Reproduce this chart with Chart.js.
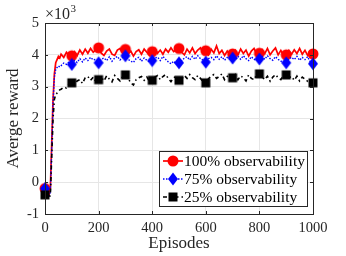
<!DOCTYPE html>
<html>
<head>
<meta charset="utf-8">
<script src="https://cdn.jsdelivr.net/npm/chart.js@4"></script>
<style>
  html, body { margin: 0; padding: 0; background: #fff; }
  #wrap { width: 346px; height: 256px; position: relative; }
</style>
</head>
<body>
<div id="wrap"><canvas id="reward-chart" width="346" height="256"></canvas></div>
<script>
// episodes (x) and average reward in units of 10^3
const episodes = [0, 5, 10, 15, 20, 25, 30, 35, 40, 45, 50, 55,
  60, 70, 80, 90, 100, 110, 120, 130, 140, 150,
  160, 170, 180, 190, 200, 210, 220, 230, 240, 250,
  260, 270, 280, 290, 300, 310, 320, 330, 340, 350,
  360, 370, 380, 390, 400, 410, 420, 430, 440, 450,
  460, 470, 480, 490, 500, 510, 520, 530, 540, 550,
  560, 570, 580, 590, 600, 610, 620, 630, 640, 650,
  660, 670, 680, 690, 700, 710, 720, 730, 740, 750,
  760, 770, 780, 790, 800, 810, 820, 830, 840, 850,
  860, 870, 880, 890, 900, 910, 920, 930, 940, 950,
  960, 970, 980, 990, 1000];

const obs100 = [-0.2, -0.3, -0.4, -0.4, -0.2, 1.2, 2.6, 3.4, 3.75, 3.85, 3.95, 3.9,
  4.02, 3.92, 4.08, 3.98, 3.97, 4.1, 3.98, 4.15, 4.02, 4.18,
  4.05, 4.2, 4.08, 4.16, 4.22, 4.05, 3.98, 4.12, 4.18, 4.02,
  3.98, 4.15, 4.2, 4.05, 4.17, 4.02, 4.12, 3.96, 4.1, 4.16,
  4.02, 4.18, 4.08, 3.98, 4.1, 4.2, 4.05, 4.15, 4.02, 4.18,
  4.08, 4.22, 4.1, 4.16, 4.2, 4.08, 4.0, 4.18, 4.06, 4.22,
  4.04, 4.15, 4.22, 4.06, 4.13, 4.0, 4.18, 4.06, 4.28, 4.04,
  4.14, 3.98, 4.12, 4.0, 4.03, 4.14, 4.0, 4.18, 4.04, 4.15,
  3.96, 4.12, 4.2, 4.02, 4.05, 4.16, 4.04, 4.2, 4.0, 4.12,
  4.22, 4.0, 4.14, 3.98, 4.0, 4.14, 4.02, 4.16, 4.04, 4.2,
  4.02, 4.14, 3.98, 4.1, 4.03];

const obs75 = [-0.2, -0.3, -0.4, -0.45, -0.3, 1.0, 2.5, 3.3, 3.55, 3.6, 3.65, 3.62,
  3.66, 3.74, 3.7, 3.78, 3.7, 3.82, 3.76, 3.88, 3.78, 3.9,
  3.82, 3.92, 3.84, 3.86, 3.75, 3.86, 3.9, 3.82, 3.94, 3.8,
  3.9, 3.95, 3.84, 3.92, 3.97, 3.86, 3.8, 3.76, 3.88, 3.92,
  3.8, 3.9, 3.83, 3.78, 3.82, 3.9, 3.93, 3.82, 3.95, 3.86,
  3.78, 3.72, 3.8, 3.7, 3.75, 3.82, 3.9, 3.94, 3.84, 3.95,
  3.86, 3.97, 3.88, 3.83, 3.77, 3.88, 3.92, 3.85, 3.97, 3.86,
  3.94, 3.83, 3.92, 3.86, 3.9, 3.83, 3.95, 3.86, 3.97, 3.88,
  3.82, 3.94, 3.86, 3.83, 3.87, 3.95, 3.86, 3.97, 3.88, 3.83,
  3.94, 3.86, 3.8, 3.78, 3.75, 3.88, 3.92, 3.85, 3.95, 3.83,
  3.92, 3.85, 3.94, 3.78, 3.72];

const obs25 = [-0.4, -0.45, -0.5, -0.5, -0.4, 0.8, 2.0, 2.6, 2.75, 2.8, 2.85, 2.9,
  2.92, 2.98, 2.96, 3.08, 3.12, 3.05, 3.18, 3.22, 3.1, 3.28,
  3.32, 3.2, 3.3, 3.15, 3.22, 3.3, 3.18, 3.34, 3.24, 3.15,
  3.35, 3.26, 3.18, 3.32, 3.37, 3.26, 3.12, 3.05, 3.22, 3.28,
  3.32, 3.2, 3.3, 3.17, 3.2, 3.3, 3.35, 3.22, 3.32, 3.38,
  3.26, 3.16, 3.28, 3.33, 3.2, 3.24, 3.35, 3.26, 3.38, 3.28,
  3.22, 3.35, 3.26, 3.16, 3.12, 3.25, 3.33, 3.38, 3.26, 3.32,
  3.4, 3.22, 3.32, 3.37, 3.28, 3.38, 3.22, 3.34, 3.28, 3.18,
  3.37, 3.26, 3.22, 3.38, 3.4, 3.3, 3.22, 3.33, 3.17, 3.3,
  3.38, 3.28, 3.22, 3.37, 3.37, 3.28, 3.32, 3.2, 3.33, 3.18,
  3.3, 3.24, 3.17, 3.2, 3.12];

const seriesNames = ['100% observability', '75% observability', '25% observability'];
const xTicks = [0, 200, 400, 600, 800, 1000];
const yTicks = [-1, 0, 1, 2, 3, 4, 5];

const SERIF = '"Liberation Serif", "DejaVu Serif", serif';
const AXIS = '#262626';

function makeMarker(kind, color) {
  const c = document.createElement('canvas');
  c.width = 14; c.height = 14;
  const g = c.getContext('2d');
  g.fillStyle = color;
  g.beginPath();
  if (kind === 'circle') {
    g.arc(7, 7, 5.5, 0, Math.PI * 2);
  } else if (kind === 'diamond') {
    g.moveTo(7, 0.5); g.lineTo(12, 7); g.lineTo(7, 13.5); g.lineTo(2, 7); g.closePath();
  } else {
    g.rect(2.5, 2.5, 9, 9);
  }
  g.fill();
  return c;
}

const markers = [
  makeMarker('circle', '#ff0000'),
  makeMarker('diamond', '#0000ff'),
  makeMarker('square', '#000000')
];
const colors = ['#ff0000', '#0000ff', '#000000'];
const dashes = [[], [1.5, 1.5], [4, 3, 1.5, 3]];
const widths = [1.7, 1.4, 1.6];

function pts(vals) {
  return episodes.map((e, i) => ({ x: e, y: vals[i] }));
}

// marker only every 100 episodes
const markEvery = ctx => (ctx.raw && ctx.raw.x % 100 === 0) ? 5 : 0;

const frame = {
  id: 'frame',
  afterDraw(chart) {
    const ctx = chart.ctx;
    const a = chart.chartArea;
    const xs = chart.scales.x, ys = chart.scales.y;
    ctx.save();
    // box
    ctx.strokeStyle = AXIS;
    ctx.lineWidth = 1;
    ctx.strokeRect(Math.round(a.left) + 0.5, Math.round(a.top) + 0.5,
      Math.round(a.right - a.left), Math.round(a.bottom - a.top));
    // inward ticks
    ctx.beginPath();
    xTicks.forEach(t => {
      const px = Math.round(xs.getPixelForValue(t)) + 0.5;
      ctx.moveTo(px, a.bottom); ctx.lineTo(px, a.bottom - 3);
      ctx.moveTo(px, a.top); ctx.lineTo(px, a.top + 3);
    });
    yTicks.forEach(t => {
      const py = Math.round(ys.getPixelForValue(t)) + 0.5;
      ctx.moveTo(a.left, py); ctx.lineTo(a.left + 3, py);
      ctx.moveTo(a.right, py); ctx.lineTo(a.right - 3, py);
    });
    ctx.stroke();

    // exponent label
    ctx.fillStyle = AXIS;
    ctx.textBaseline = 'alphabetic';
    ctx.textAlign = 'left';
    ctx.font = '16px ' + SERIF;
    ctx.fillText('\u00d710', a.left, 19);
    const w = ctx.measureText('\u00d710').width;
    ctx.font = '11px ' + SERIF;
    ctx.fillText('3', a.left + w + 0.5, 12);

    // axis titles
    ctx.font = '17px ' + SERIF;
    ctx.textAlign = 'center';
    ctx.textBaseline = 'middle';
    ctx.fillText('Episodes', (a.left + a.right) / 2, 244);
    ctx.save();
    ctx.translate(14, (a.top + a.bottom) / 2);
    ctx.rotate(-Math.PI / 2);
    ctx.fillText('Averge reward', 0, 0);
    ctx.restore();

    // legend
    const lx = 159.5, ly = 151.5, lw = 148, lh = 55;
    ctx.fillStyle = '#fff';
    ctx.fillRect(lx, ly, lw, lh);
    ctx.strokeStyle = AXIS;
    ctx.strokeRect(lx, ly, lw, lh);
    ctx.font = '15.5px ' + SERIF;
    ctx.textAlign = 'left';
    ctx.textBaseline = 'middle';
    seriesNames.forEach((name, i) => {
      const y = 161 + i * 18;
      ctx.strokeStyle = colors[i];
      ctx.lineWidth = widths[i];
      ctx.setLineDash(dashes[i]);
      ctx.beginPath();
      ctx.moveTo(163, y); ctx.lineTo(183, y);
      ctx.stroke();
      ctx.setLineDash([]);
      ctx.drawImage(markers[i], 173 - 7, y - 7);
      ctx.fillStyle = '#000';
      ctx.fillText(name, 184, y + 1);
    });
    ctx.restore();
  }
};

const ctx = document.getElementById('reward-chart');

new Chart(ctx, {
  type: 'line',
  data: {
    datasets: [obs100, obs75, obs25].map((vals, i) => ({
      label: seriesNames[i],
      data: pts(vals),
      borderColor: colors[i],
      backgroundColor: colors[i],
      borderWidth: widths[i],
      borderDash: dashes[i],
      pointStyle: markers[i],
      pointRadius: markEvery,
      pointHoverRadius: 0,
      tension: 0,
      clip: false,
      order: 3 - i
    }))
  },
  options: {
    responsive: false,
    animation: false,
    events: [],
    layout: { padding: { top: 23, right: 33, left: 0, bottom: 0 } },
    plugins: { legend: { display: false }, tooltip: { enabled: false } },
    scales: {
      x: {
        type: 'linear',
        min: 0, max: 1000,
        afterFit: s => { s.height = 42; },
        afterBuildTicks: s => { s.ticks = xTicks.map(v => ({ value: v })); },
        ticks: { font: { family: SERIF, size: 14.5 }, color: AXIS, padding: 5, maxRotation: 0,
          callback: v => String(v) },
        grid: { color: '#e6e6e6', drawTicks: false },
        border: { display: false }
      },
      y: {
        min: -1, max: 5,
        afterFit: s => { s.width = 45; },
        afterBuildTicks: s => { s.ticks = yTicks.map(v => ({ value: v })); },
        ticks: { font: { family: SERIF, size: 14.5 }, color: AXIS, padding: 6,
          callback: v => String(v) },
        grid: { color: '#e6e6e6', drawTicks: false },
        border: { display: false }
      }
    }
  },
  plugins: [frame]
});
</script>
</body>
</html>
